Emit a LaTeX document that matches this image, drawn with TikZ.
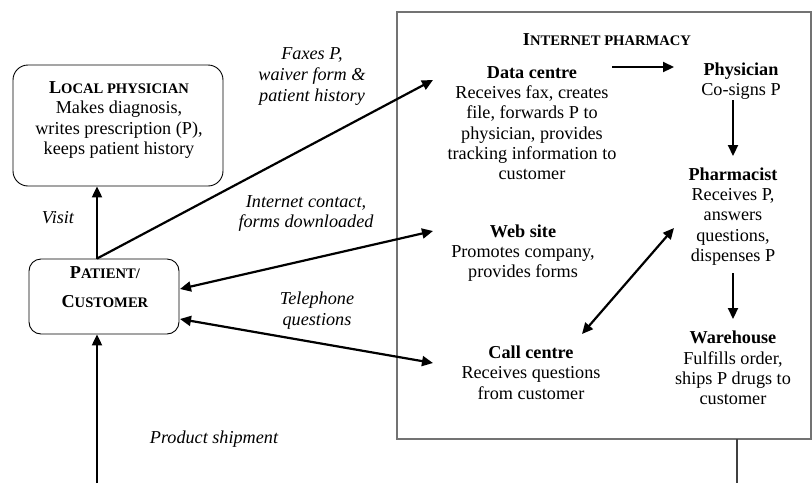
\documentclass[tikz,border=0pt]{standalone}
\usepackage{fontspec}
\setmainfont{Liberation Serif}
\usetikzlibrary{arrows.meta}
\newcommand\mysc[2]{#1{\fontsize{14.6}{20.3}\selectfont #2}}
\newcommand\smallcaps[1]{{\fontsize{14.6}{20.3}\selectfont #1}}
\begin{document}
\begin{tikzpicture}[x=1pt,y=-1pt,
  every node/.style={font=\fontsize{18.2}{20.3}\selectfont, align=center, inner sep=0pt},
  txt/.style={},
  lbl/.style={font=\fontsize{18.2}{20.6}\selectfont\itshape},
  rbox/.style={draw=black, line width=0.9pt},
  pbox/.style={draw=black!55, line width=1.5pt},
  arr/.style={line width=2.2pt, -{Triangle[length=11pt,width=10pt]}},
  darr/.style={line width=2.2pt, {Triangle[length=11pt,width=10pt]}-{Triangle[length=11pt,width=10pt]}}
]
\useasboundingbox (0,0) rectangle (812,483);

% boxes
\node[rbox, rounded corners=15pt, minimum width=210pt, minimum height=121pt] (localbox) at (118,125.5) {};
\node[rbox, rounded corners=12pt, minimum width=150pt, minimum height=75pt] (patbox) at (104,296.5) {};
\node[pbox, minimum width=414pt, minimum height=427pt] (pharmbox) at (604,225.5) {};

% texts
\node[txt] (localtxt) at (119,120) {\textbf{\mysc{L}{OCAL PHYSICIAN}}\\Makes diagnosis,\\writes prescription (P),\\keeps patient history};
\node[txt] (pattxt) at (105,287) {\textbf{\mysc{P}{ATIENT/}}\\[9pt]\textbf{\mysc{C}{USTOMER}}};
\node[txt] (title) at (607,40) {\textbf{\mysc{I}{NTERNET PHARMACY}}};
\node[txt] (dc) at (532,123) {\textbf{Data centre}\\Receives fax, creates\\file, forwards P to\\physician, provides\\tracking information to\\customer};
\node[txt] (phys) at (741,81) {\textbf{Physician}\\Co-signs P};
\node[txt] (pharm) at (733,216.5) {\textbf{Pharmacist}\\Receives P,\\answers\\questions,\\dispenses P};
\node[txt] (web) at (523,253) {\textbf{Web site}\\Promotes company,\\provides forms};
\node[txt] (call) at (531,372.5) {\textbf{Call centre}\\Receives questions\\from customer};
\node[txt] (ware) at (733,368) {\textbf{Warehouse}\\Fulfills order,\\ships P drugs to\\customer};

% labels
\node[lbl] (lfax) at (312,76.5) {Faxes P,\\waiver form \&\\patient history};
\node[lbl] (lnet) at (306,213.5) {Internet contact,\\forms downloaded};
\node[lbl] (ltel) at (317,310.5) {Telephone\\questions};
\node[lbl] (lship) at (214,439) {Product shipment};
\node[lbl] (lvisit) at (58,218) {Visit};

% coordinates
\coordinate (vx) at (97,0);
\coordinate (bot) at (97,483);
\coordinate (dcin) at (433,80);
\coordinate (webin) at (433,231);
\coordinate (callin) at (433,363);
\coordinate (pw) at (180,289);
\coordinate (pc) at (180,319);
\coordinate (dcout) at (612,67);
\coordinate (physin) at (674,67);
\coordinate (physout) at (733,100);
\coordinate (pharmin) at (733,156);
\coordinate (pharmout) at (733,273);
\coordinate (warein) at (733,319);
\coordinate (callc) at (582,334);
\coordinate (pharmc) at (674,228);
\coordinate (vtop) at (737,439);
\coordinate (vbot) at (737,483);

% connectors
\draw[arr] (patbox.north -| vx) -- (localbox.south -| vx);
\draw[arr] (patbox.north -| vx) -- (dcin);
\draw[darr] (pw) -- (webin);
\draw[darr] (pc) -- (callin);
\draw[arr] (bot) -- (patbox.south -| vx);
\draw[arr] (dcout) -- (physin);
\draw[arr] (physout) -- (pharmin);
\draw[arr] (pharmout) -- (warein);
\draw[darr] (callc) -- (pharmc);
\draw[draw=black!75, line width=1.2pt] (vtop) -- (vbot);
\end{tikzpicture}
\end{document}
